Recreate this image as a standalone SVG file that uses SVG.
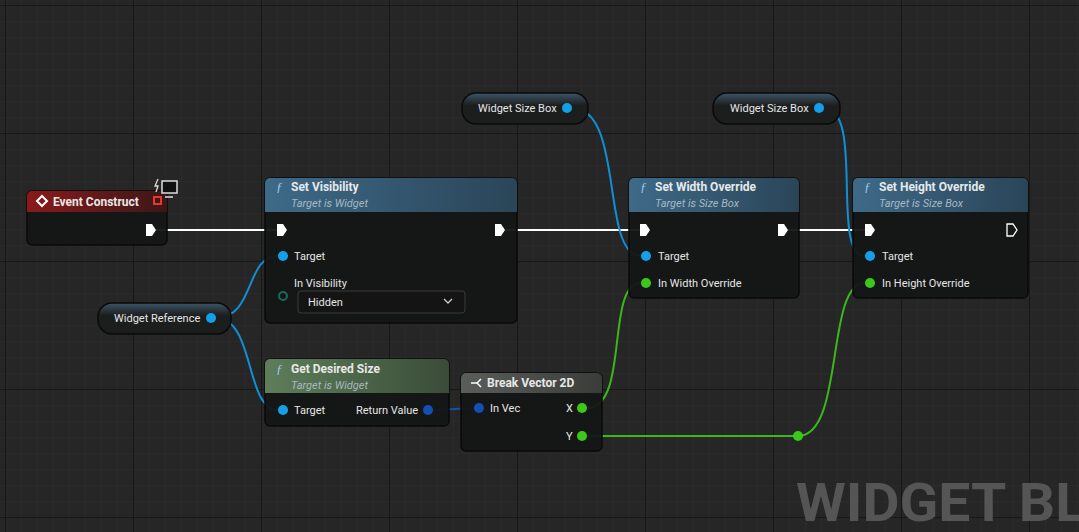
<svg xmlns="http://www.w3.org/2000/svg" width="1079" height="532" viewBox="0 0 1079 532">
<defs>
<pattern id="g1" width="16" height="16" patternUnits="userSpaceOnUse" x="6" y="6"><path d="M16 0V16H0" fill="none" stroke="#2e2e2e" stroke-width="1"/></pattern>
<pattern id="g2" width="128" height="128" patternUnits="userSpaceOnUse" x="6" y="6"><path d="M128 0V128H0" fill="none" stroke="#181818" stroke-width="2"/></pattern>
<linearGradient id="hr" x1="0" x2="1"><stop offset="0" stop-color="#8a1a1a"/><stop offset="1" stop-color="#3a1818"/></linearGradient>
<linearGradient id="hb" x1="0" x2="1"><stop offset="0" stop-color="#3e6a88"/><stop offset="1" stop-color="#2a4558"/></linearGradient>
<linearGradient id="hg" x1="0" x2="1"><stop offset="0" stop-color="#5e7e5a"/><stop offset="1" stop-color="#3a4c38"/></linearGradient>
<linearGradient id="hd" x1="0" x2="1"><stop offset="0" stop-color="#5a5e5a"/><stop offset="1" stop-color="#3a3c3a"/></linearGradient>
<linearGradient id="hv" x1="0" y1="0" x2="0" y2="1"><stop offset="0" stop-color="#3b5566"/><stop offset="0.4" stop-color="#1c1e1e"/></linearGradient>
</defs>
<style>
.node{fill:#141615;fill-opacity:.95;stroke:#0a0a0a;stroke-width:1.5}
.t{font-family:"Roboto","Liberation Sans",sans-serif;font-size:11px;fill:#e6e6e6}
.h{font-family:"Roboto","Liberation Sans",sans-serif;font-size:12px;font-weight:bold;fill:#e8e8e8}
.s{font-family:"Roboto","Liberation Sans",sans-serif;font-size:11px;font-style:italic;fill:#a8b8c0}
.f{font-family:"Liberation Serif",serif;font-style:italic;font-size:13px;fill:#9fc8e6}
.exec{fill:#fff}
.bp{fill:#12a0e8}
.gp{fill:#3ac81a}
.w{fill:none;stroke-width:2}
</style>
<rect width="1079" height="532" fill="#262626"/>
<rect width="1079" height="532" fill="url(#g1)"/>
<rect width="1079" height="532" fill="url(#g2)"/>
<text x="796" y="521" font-family="Roboto,'Liberation Sans',sans-serif" font-size="54" font-weight="bold" fill="#555" textLength="290" lengthAdjust="spacingAndGlyphs">WIDGET BL</text>

<g id="connectors">
<path class="w" stroke="#fff" stroke-width="2.5" d="M156 230H278M505 230H640M788 230H865"/>
<path class="w" stroke="#0f8fd6" d="M216 318C255 318 245 256 278 256M216 318C255 318 245 410 278 410M572 108C625 108 600 256 641 256M824 108C865 108 830 256 865 256"/>
<path class="w" stroke="#1250b8" d="M433 410C455 410 455 408 475 408"/>
<path class="w" stroke="#3ab81a" d="M587 408C630 408 605 283 641 283M587 436H798C845 436 825 283 865 283"/>
</g>

<g id="event-construct">
<rect x="27" y="191" width="140" height="54" rx="5" class="node"/>
<path d="M32 191H162a5 5 0 0 1 5 5V212H27V196a5 5 0 0 1 5-5z" fill="url(#hr)"/>
<path d="M42 196l5 5-5 5-5-5z" fill="none" stroke="#fff" stroke-width="2"/>
<text x="53" y="206" class="h">Event Construct</text>
<rect x="154" y="197" width="7" height="7" fill="none" stroke="#e33" stroke-width="2"/>
<rect x="162" y="181" width="15" height="12" fill="#111" stroke="#ddd" stroke-width="1.5"/>
<path d="M165 197h8" stroke="#ddd" stroke-width="1.5"/>
<path d="M158 179l-3 7h3l-2 6" stroke="#ddd" fill="none" stroke-width="1.3"/>
<path d="M146 224h6l4 6-4 6h-6z" class="exec"/>
</g>

<g id="set-visibility">
<rect x="265" y="178" width="252" height="145" rx="5" class="node"/>
<path d="M270 178H512a5 5 0 0 1 5 5V212H265V183a5 5 0 0 1 5-5z" fill="url(#hb)"/>
<text x="276" y="191" class="f">ƒ</text><text x="291" y="191" class="h">Set Visibility</text>
<text x="291" y="207" class="s">Target is Widget</text>
<path d="M277 224h6l4 6-4 6h-6z" class="exec"/>
<path d="M495 224h6l4 6-4 6h-6z" class="exec"/>
<circle cx="283" cy="256" r="5" class="bp"/><text x="294" y="260" class="t">Target</text>
<text x="294" y="287" class="t">In Visibility</text>
<circle cx="283" cy="296" r="4" fill="none" stroke="#1a6a5a" stroke-width="2"/>
<rect x="298" y="291" width="167" height="22" rx="3" fill="#141414" stroke="#3a3a3a"/>
<text x="308" y="306" class="t" font-size="10" fill="#ccc">Hidden</text>
<path d="M444 299l4 4 4-4" fill="none" stroke="#ccc" stroke-width="1.3"/>
</g>

<g id="set-width-override">
<rect x="629" y="178" width="170" height="120" rx="5" class="node"/>
<path d="M634 178H794a5 5 0 0 1 5 5V212H629V183a5 5 0 0 1 5-5z" fill="url(#hb)"/>
<text x="640" y="191" class="f">ƒ</text><text x="655" y="191" class="h">Set Width Override</text>
<text x="655" y="207" class="s">Target is Size Box</text>
<path d="M640 224h6l4 6-4 6h-6z" class="exec"/>
<path d="M778 224h6l4 6-4 6h-6z" class="exec"/>
<circle cx="646" cy="256" r="5" class="bp"/><text x="658" y="260" class="t">Target</text>
<circle cx="646" cy="283" r="5" class="gp"/><text x="658" y="287" class="t">In Width Override</text>
</g>

<g id="set-height-override">
<rect x="853" y="178" width="175" height="120" rx="5" class="node"/>
<path d="M858 178H1023a5 5 0 0 1 5 5V212H853V183a5 5 0 0 1 5-5z" fill="url(#hb)"/>
<text x="864" y="191" class="f">ƒ</text><text x="879" y="191" class="h">Set Height Override</text>
<text x="879" y="207" class="s">Target is Size Box</text>
<path d="M865 224h6l4 6-4 6h-6z" class="exec"/>
<path d="M1007 224h6l4 6-4 6h-6z" fill="none" stroke="#fff" stroke-width="1.3"/>
<circle cx="870" cy="256" r="5" class="bp"/><text x="882" y="260" class="t">Target</text>
<circle cx="870" cy="283" r="5" class="gp"/><text x="882" y="287" class="t">In Height Override</text>
</g>

<g id="widget-size-box-1">
<rect x="462" y="93" width="126" height="31" rx="14" fill="url(#hv)" stroke="#0a0a0a" stroke-width="1.5"/>
<text x="478" y="112" class="t">Widget Size Box</text>
<circle cx="567" cy="108" r="5" class="bp"/>
</g>
<g id="widget-size-box-2">
<rect x="713" y="93" width="127" height="31" rx="14" fill="url(#hv)" stroke="#0a0a0a" stroke-width="1.5"/>
<text x="730" y="112" class="t">Widget Size Box</text>
<circle cx="819" cy="108" r="5" class="bp"/>
</g>
<g id="widget-reference">
<rect x="98" y="303" width="133" height="31" rx="14" fill="url(#hv)" stroke="#0a0a0a" stroke-width="1.5"/>
<text x="114" y="322" class="t">Widget Reference</text>
<circle cx="211" cy="318" r="5" class="bp"/>
</g>

<g id="get-desired-size">
<rect x="265" y="359" width="184" height="67" rx="5" class="node"/>
<path d="M270 359H444a5 5 0 0 1 5 5V393H265V364a5 5 0 0 1 5-5z" fill="url(#hg)"/>
<text x="276" y="373" class="f" fill="#b8e0a8">ƒ</text><text x="291" y="373" class="h">Get Desired Size</text>
<text x="291" y="389" class="s" fill="#a8c098">Target is Widget</text>
<circle cx="283" cy="410" r="5" class="bp"/><text x="294" y="414" class="t">Target</text>
<text x="356" y="414" class="t">Return Value</text>
<circle cx="428" cy="410" r="5" fill="#1250b8"/>
</g>

<g id="break-vector-2d">
<rect x="461" y="373" width="141" height="78" rx="5" class="node"/>
<path d="M466 373H597a5 5 0 0 1 5 5V393H461V378a5 5 0 0 1 5-5z" fill="url(#hd)"/>
<path d="M471 383h6M477 383l4-4M477 383l4 4" stroke="#fff" stroke-width="1.5" fill="none"/>
<text x="487" y="387" class="h">Break Vector 2D</text>
<circle cx="479" cy="408" r="5" fill="#1250b8"/><text x="490" y="412" class="t">In Vec</text>
<text x="566" y="412" class="t">X</text><circle cx="582" cy="408" r="5" class="gp"/>
<text x="566" y="440" class="t">Y</text><circle cx="582" cy="436" r="5" class="gp"/>
</g>
<circle cx="798" cy="436" r="5" class="gp"/>
</svg>
